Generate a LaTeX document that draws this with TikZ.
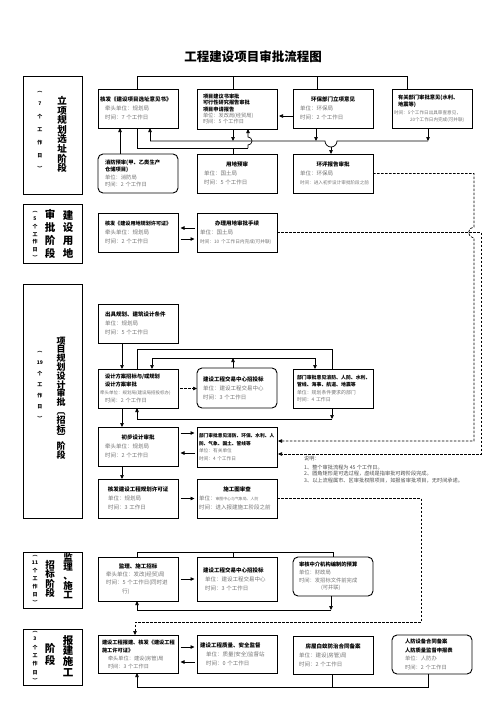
\documentclass[tikz,border=0pt]{standalone}
\usepackage{fontspec}
\setmainfont{Noto Sans CJK SC}[BoldFont={Noto Sans CJK SC Black}]
\usetikzlibrary{arrows.meta}
\definecolor{bodygray}{gray}{0.45}
\newcommand\tbf[1]{{\bfseries #1}}
\newcommand\gry[1]{{\color{bodygray}#1}}
\newcommand\cbox[1]{\makebox[76pt][c]{#1}}
\tikzset{
 box/.style={draw, line width=0.9pt, anchor=north west, minimum width=80pt, text width=76pt,
   inner xsep=2pt, inner ysep=1pt, minimum height=39pt, align=left, outer sep=0pt,
   font=\fontsize{5.5}{9}\selectfont},
 rbox/.style={box, rounded corners=5pt},
 stagebox/.style={draw, line width=0.9pt, anchor=north west, minimum width=59pt, inner sep=0pt, outer sep=0pt},
 vt/.style={align=center, inner sep=0pt},
 arr/.style={-{Triangle[length=4pt,width=3.5pt]}},
 ln/.style={line width=0.7pt},
 dsh/.style={line width=0.7pt, dash pattern=on 2.5pt off 1.5pt},
 sh/.style={shorten <=2.5pt, shorten >=2.5pt},
 note/.style={anchor=west, inner sep=0pt, font=\fontsize{5.2}{6}\selectfont, text=black!70},
}
\begin{document}
\begin{tikzpicture}[x=1pt,y=-1pt]
\useasboundingbox (0,0) rectangle (496,702);

\node[font=\fontsize{12.5}{14}\selectfont\bfseries] (title) at (253,57) {工程建设项目审批流程图};

% stage boxes
\node[stagebox, minimum height=118pt] (S1) at (23,76) {};
\node[stagebox, minimum height=59pt] (S2) at (23,204) {};
\node[stagebox, minimum height=234pt] (S3) at (23,284) {};
\node[stagebox, minimum height=56pt] (S4) at (23,552) {};
\node[stagebox, minimum height=56pt] (S5) at (23,629) {};

\node[vt, font=\fontsize{9.5}{9.6}\selectfont\bfseries] (s1a) at (62,134.5) {立\\项\\规\\划\\选\\址\\阶\\段};
\node[vt, font=\fontsize{5}{13}\selectfont\bfseries] (s1b) at (40,131) {︵\\7\\个\\工\\作\\日\\︶};

\node[vt, font=\fontsize{10.5}{12.7}\selectfont\bfseries] (s2a) at (68,234) {建\\设\\用\\地};
\node[vt, font=\fontsize{10.5}{12.7}\selectfont\bfseries] (s2b) at (50,234) {审\\批\\阶\\段};
\node[vt, font=\fontsize{5}{7.7}\selectfont\bfseries] (s2c) at (35,235.5) {︵\\5\\个\\工\\作\\日\\︶};

\node[vt, font=\fontsize{9}{8.8}\selectfont\bfseries] (s3a) at (61,398) {项\\目\\规\\划\\设\\计\\审\\批\\︹\\招\\标\\︺\\阶\\段};
\node[vt, font=\fontsize{5}{11.2}\selectfont\bfseries] (s3b) at (40,386) {︵\\19\\个\\工\\作\\日\\︶};

\node[vt, font=\fontsize{9.5}{9.3}\selectfont\bfseries] (s4a) at (68,576) {监\\理\\、\\施\\工};
\node[vt, font=\fontsize{9.5}{9.5}\selectfont\bfseries] (s4b) at (50,579) {招\\标\\阶\\段};
\node[vt, font=\fontsize{5}{8}\selectfont\bfseries] (s4c) at (35,580) {︵\\11\\个\\工\\作\\日\\︶};

\node[vt, font=\fontsize{10.5}{10.8}\selectfont\bfseries] (s5a) at (68,656) {报\\建\\施\\工};
\node[vt, font=\fontsize{10.5}{12}\selectfont\bfseries] (s5b) at (50,654) {阶\\段};
\node[vt, font=\fontsize{5}{8.3}\selectfont\bfseries] (s5c) at (35,657) {︵\\3\\个\\工\\作\\日\\︶};

% stage 1 boxes
\node[box] (A) at (98,89) {\tbf{核发《建设项目选址意见书》}\\\hspace*{5pt}\gry{牵头单位：规划局}\\\hspace*{5pt}\gry{时间：7 个工作日}};
\node[box, minimum height=40pt, font=\fontsize{5.2}{6.3}\selectfont] (B) at (197,89) {\hspace*{4pt}\tbf{项目建议书审批}\\\hspace*{4pt}\tbf{可行性研究报告审批}\\\hspace*{4pt}\tbf{项目申请报告}\\\hspace*{4pt}\gry{单位：发改局(经贸局)}\\\hspace*{4pt}\gry{时间：5 个工作日}};
\node[box] (C) at (293,89) {\cbox{\tbf{环保部门立项意见}}\\\hspace*{5pt}\gry{单位：环保局}\\\hspace*{5pt}\gry{时间：2 个工作日}};
\node[box, font=\fontsize{5.3}{7.3}\selectfont] (D) at (392,89) {\hspace*{4pt}\tbf{有关部门审批意见(水利、}\\\hspace*{4pt}\tbf{地震等)}\\\gry{\fontsize{4.6}{7.3}\selectfont 时间：5个工作日出具审查意见，}\\\hspace*{16pt}\gry{\fontsize{4.6}{7.3}\selectfont 20个工作日内完成(可并联)}};

\node[rbox, font=\fontsize{5.3}{7.5}\selectfont] (E) at (98,154) {\hspace*{5pt}\tbf{消防预审(甲、乙类生产}\\\hspace*{5pt}\tbf{仓储项目)}\\\hspace*{5pt}\gry{单位：消防局}\\\hspace*{5pt}\gry{时间：2 个工作日}};
\node[box] (F) at (197,154) {\cbox{\tbf{用地预审}}\\\hspace*{5pt}\gry{单位：国土局}\\\hspace*{5pt}\gry{时间：5 个工作日}};
\node[box] (G) at (293,154) {\cbox{\tbf{环评报告审批}}\\\hspace*{5pt}\gry{单位：环保局}\\\hspace*{5pt}\gry{\fontsize{4.6}{9}\selectfont 时间：进入初步设计审批阶段之前}};

% stage 2 boxes
\node[box] (H) at (98,213) {\hspace*{5pt}\tbf{\fontsize{5.1}{9}\selectfont 核发《建设用地规划许可证》}\\\hspace*{5pt}\gry{牵头单位：规划局}\\\hspace*{5pt}\gry{时间：2 个工作日}};
\node[box] (I) at (197,213) {\cbox{\tbf{办理用地审批手续}}\\\hspace*{1pt}\gry{单位：国土局}\\\hspace*{1pt}\gry{\fontsize{4.7}{9}\selectfont 时间：10 个工作日内完成(可并联)}};

% stage 3 boxes
\node[box] (J) at (98,304) {\hspace*{5pt}\tbf{出具规划、建筑设计条件}\\\hspace*{5pt}\gry{单位：规划局}\\\hspace*{5pt}\gry{时间：5 个工作日}};
\node[box, font=\fontsize{5.3}{8}\selectfont] (K) at (98,369) {\hspace*{5pt}\tbf{设计方案招标与/或规划}\\\hspace*{5pt}\tbf{设计方案审批}\\\gry{\fontsize{4.5}{8}\selectfont 牵头单位：规划局(建设局招投标办)}\\\hspace*{5pt}\gry{时间：2 个工作日}};
\node[rbox, minimum height=40pt] (L) at (197,368) {\hspace*{4pt}\tbf{建设工程交易中心招投标}\\\hspace*{4pt}\gry{单位：建设工程交易中心}\\\hspace*{4pt}\gry{时间：3 个工作日}};
\node[box, font=\fontsize{4.9}{7.5}\selectfont] (M) at (293,369) {\hspace*{2pt}\tbf{部门审批意见消防、人防、水利、}\\\hspace*{2pt}\tbf{管线、海事、航道、地震等}\\\hspace*{2pt}\gry{单位：规划条件要求的部门}\\\hspace*{2pt}\gry{时间：4 工作日}};

\node[box] (N) at (98,427) {\cbox{\tbf{初步设计审批}}\\\hspace*{5pt}\gry{牵头单位：规划局}\\\hspace*{5pt}\gry{时间：2 个工作日}};
\node[box, minimum height=40pt, font=\fontsize{4.7}{7.5}\selectfont] (O) at (197,427) {\tbf{部门审批意见消防、环保、水利、人}\\\tbf{防、气象、国土、管线等}\\\gry{单位：有关单位}\\\gry{时间：4 个工作日}};

\node[box] (P) at (98,479) {\cbox{\tbf{核发建设工程规划许可证}}\\\hspace*{8pt}\gry{单位：规划局}\\\hspace*{8pt}\gry{时间：3 工作日}};
\node[box] (Q) at (197,479) {\cbox{\tbf{施工图审查}}\\\gry{单位：{\fontsize{3.9}{9}\selectfont 审图中心与气象局、人防}}\\\gry{时间：进入报建施工阶段之前}};

% stage 4 boxes
\node[box, minimum height=44pt, font=\fontsize{5.5}{8.3}\selectfont] (R) at (98,557) {\cbox{\tbf{监理、施工招标}}\\\hspace*{6pt}\gry{牵头单位：发改(经贸)局}\\\hspace*{6pt}\gry{时间：5 个工作日(同时进}\\\hspace*{22pt}\gry{行)}};
\node[box, minimum height=44pt] (S) at (197,557) {\hspace*{4pt}\tbf{建设工程交易中心招投标}\\\hspace*{6pt}\gry{单位：建设工程交易中心}\\\hspace*{6pt}\gry{时间：3 个工作日}};
\node[rbox, font=\fontsize{5.3}{7.8}\selectfont] (T) at (293,557) {\hspace*{4pt}\tbf{审核中介机构编制的预算}\\\hspace*{4pt}\gry{单位：财政局}\\\hspace*{4pt}\gry{时间：发招标文件前完成}\\\hspace*{26pt}\gry{(可并联)}};

% stage 5 boxes
\node[box, minimum height=38pt, font=\fontsize{5.2}{8}\selectfont] (U) at (98,635) {\hspace*{2pt}\tbf{建设工程报建、核发《建设工程}\\\hspace*{2pt}\tbf{施工许可证》}\\\hspace*{8pt}\gry{牵头单位：建设(房管)局}\\\hspace*{8pt}\gry{时间：3 个工作日}};
\node[box, minimum height=38pt] (V) at (197,635) {\hspace*{1pt}\tbf{建设工程质量、安全监督}\\\hspace*{7pt}\gry{单位：质量(安全)监督站}\\\hspace*{7pt}\gry{时间：0 个工作日}};
\node[box, minimum height=38pt] (W) at (293,636) {\cbox{\tbf{房屋白蚁防治合同备案}}\\\hspace*{4pt}\gry{单位：建设(房管)局}\\\hspace*{4pt}\gry{时间：2 个工作日}};
\node[rbox, font=\fontsize{5.3}{8.5}\selectfont] (X) at (392,635) {\hspace*{11pt}\tbf{人防设备合同备案}\\\hspace*{11pt}\tbf{人防质量监督申报表}\\\hspace*{11pt}\gry{单位：人防办}\\\hspace*{11pt}\gry{时间：2 个工作日}};

% notes
\node[note] (nt0) at (304,459) {说明：};
\node[note] (nt1) at (304,467) {1、整个审批流程为 45 个工作日。};
\node[note] (nt2) at (304,474) {2、圆角矩形是可选过程，虚线是指审批可跨阶段完成。};
\node[note] (nt3) at (304,481) {3、以上流程属市、区审批权限项目，如报省审批项目，无时间承诺。};

% ---------- connectors stage 1
\coordinate (t1) at (137,76); \coordinate (t2) at (233,76);
\coordinate (t3) at (317,76); \coordinate (t4) at (407,76);
\draw[ln] (A.north -| t1) -- (t1) -- (t4) -- (D.north -| t4);
\draw[ln] (t2) -- (B.north -| t2);
\draw[ln] (t3) -- (C.north -| t3);
\coordinate (cb) at (0,116);
\draw[ln,arr] (C.west |- cb) -- ([xshift=2pt]B.east |- cb);

\coordinate (p1) at (150,141); \coordinate (p2) at (233,141);
\coordinate (p3) at (316,141); \coordinate (p4) at (428,141);
\coordinate (pg) at (331,141);
\draw[ln] (p1) -- ([xshift=-6pt]pg) arc[start angle=180,end angle=360,radius=6pt] -- (p4);
\draw[ln,arr] ([yshift=-6pt]pg) -- (G.north -| pg);
\draw[ln,arr] (p1) -- (A.south -| p1);
\draw[ln,arr] (B.south -| p2) -- (p2);
\draw[ln,arr] (C.south -| p3) -- (p3);
\draw[ln,arr] (D.south -| p4) -- (p4);

\coordinate (q1) at (137,148); \coordinate (q2) at (233,148); \coordinate (q3) at (248,148);
\coordinate (hb) at (248,141);
\draw[ln] (A.south -| q1) -- (q1) -- (q3);
\draw[ln] (q2) -- (F.north -| q2);
\draw[ln,arr] (q3) -- ([yshift=-4pt]hb) arc[start angle=-90,end angle=90,radius=4pt] -- (B.south -| q3);

\coordinate (e1) at (120,0);
\draw[ln,arr] (E.north -| e1) -- (A.south -| e1);

% dashed long connectors
\coordinate (g1) at (474,0); \coordinate (g2) at (481,0);
\coordinate (gy1) at (0,441); \coordinate (gy2) at (0,454);
\coordinate (hc) at (I.east -| g1);
\draw[dsh,arr] (G.east) -- (G.east -| g1) -- ([yshift=5.5pt]hc) arc[start angle=90,end angle=270,radius=5.5pt] -- (gy1 -| g1) -- ([xshift=1pt]O.east |- gy1);
\draw[dsh,arr] (I.east) -- (I.east -| g2) -- (gy2 -| g2) -- ([xshift=1pt]O.east |- gy2);

% ---------- stage 2
\coordinate (h1) at (0,228); \coordinate (h2) at (0,239);
\draw[ln,arr,sh] (I.west |- h1) -- (H.east |- h1);
\draw[ln,arr,sh] (H.east |- h2) -- (I.west |- h2);

% ---------- stage 3
\coordinate (k1) at (122,0);
\draw[ln,arr] (J.south -| k1) -- (K.north -| k1);
\coordinate (m1) at (137,349); \coordinate (m2) at (332,349);
\draw[ln] (K.north -| m1) -- (m1) -- (m2) -- (M.north -| m2);
\coordinate (n1) at (152,358); \coordinate (n2) at (233,358); \coordinate (n3) at (315,358);
\draw[ln] (n1) -- (n3);
\draw[ln,arr] (n1) -- (K.north -| n1);
\draw[ln,arr] (n3) -- (M.north -| n3);
\draw[ln,arr] (L.north -| n2) -- (n2);
\draw[dsh,arr,shorten <=2pt] (K.east) -- (L.west |- K.east);
\coordinate (o1) at (332,419); \coordinate (o2) at (137,419);
\draw[ln,arr] (M.south -| o1) -- (o1);
\draw[ln,arr] (o1) -- (o2) -- (K.south -| o2);
\draw[ln,arr] (K.south -| k1) -- (N.north -| k1);
\coordinate (r1) at (0,433); \coordinate (r2) at (0,453);
\draw[ln,arr,sh] (N.east |- r1) -- (O.west |- r1);
\draw[ln,arr,sh] (O.west |- r2) -- (N.east |- r2);
\draw[ln,arr] (N.south -| k1) -- (P.north -| k1);
\draw[ln,arr,sh] (P.east) -- (Q.west |- P.east);

\coordinate (d1) at (421,0); \coordinate (d2) at (0,622); \coordinate (d3) at (135,0);
\draw[dsh,arr] (Q.east) -- (Q.east -| d1) -- (d2 -| d1) -- (d2 -| d3) -- (U.north -| d3);

% ---------- stage 4
\coordinate (u1) at (137,552); \coordinate (u2) at (233,552); \coordinate (u3) at (333,552);
\draw[ln] (R.north -| u1) -- (u1) -- (u3) -- (T.north -| u3);
\draw[ln] (u2) -- (S.north -| u2);
\draw[ln,arr,sh] (R.east) -- (S.west |- R.east);
\coordinate (v1) at (331,610); \coordinate (v2) at (137,610);
\draw[ln,arr] (T.south -| v1) -- (v1);
\draw[ln,arr] (v1) -- (v2) -- (R.south -| v2);

% ---------- stage 5
\coordinate (w1) at (0,647); \coordinate (w2) at (0,662);
\draw[ln,arr,sh] (U.east |- w1) -- (V.west |- w1);
\draw[ln,arr,sh] (V.west |- w2) -- (U.east |- w2);
\coordinate (x1) at (137,687); \coordinate (x2) at (332,687); \coordinate (x3) at (428,687);
\draw[ln] (W.south -| x2) -- (x2);
\draw[ln,arr] (X.south -| x3) -- (x3) -- (x1) -- (U.south -| x1);
\end{tikzpicture}
\end{document}
